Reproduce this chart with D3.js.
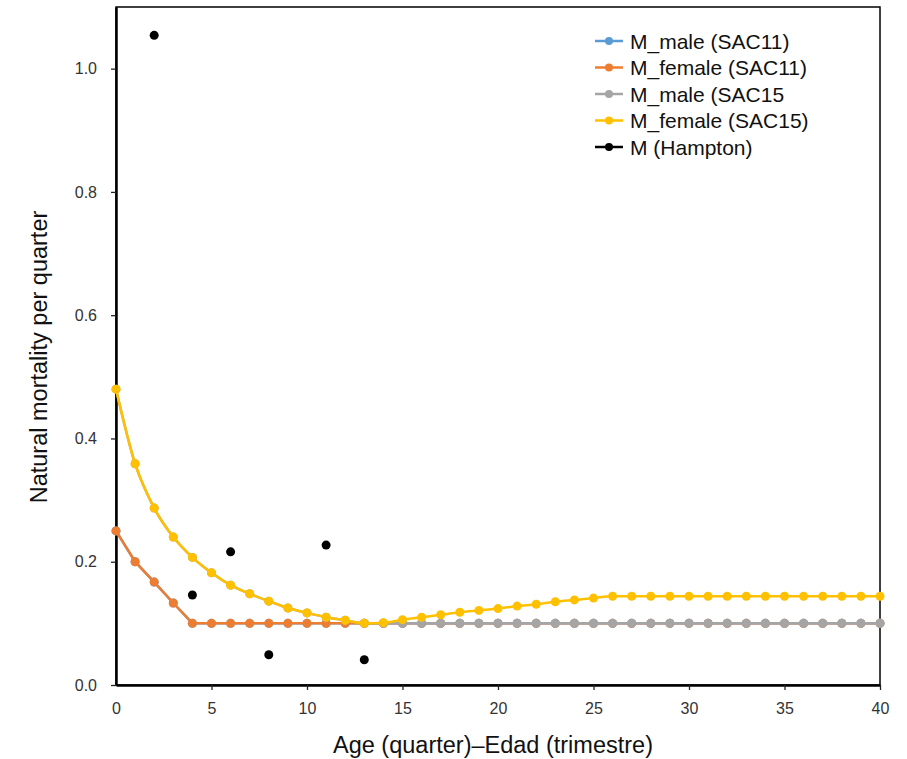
<!DOCTYPE html>
<html><head><meta charset="utf-8">
<script src="https://cdn.jsdelivr.net/npm/d3@7"></script>
<style>body{margin:0;background:#fff;} text{font-family:"Liberation Sans",Arial,sans-serif;}</style>
</head><body>
<svg id="chart" width="907" height="759"></svg>
<script>
const ages = d3.range(0, 41);
const maleSAC11 = [0.25,0.2,0.167,0.133,0.1,0.1,0.1,0.1,0.1,0.1,0.1,0.1,0.1,0.1,0.1,0.1,0.1,0.1,0.1,0.1,0.1,0.1,0.1,0.1,0.1,0.1,0.1,0.1,0.1,0.1,0.1,0.1,0.1,0.1,0.1,0.1,0.1,0.1,0.1,0.1,0.1];
const femaleSAC11 = [0.25,0.2,0.167,0.133,0.1,0.1,0.1,0.1,0.1,0.1,0.1,0.1,0.1,0.1,0.1,0.1,0.1,0.1,0.1,0.1,0.1,0.1,0.1,0.1,0.1,0.1,0.1,0.1,0.1,0.1,0.1,0.1,0.1,0.1,0.1,0.1,0.1,0.1,0.1,0.1,0.1];
const maleSAC15 = [0.48,0.359,0.287,0.24,0.207,0.182,0.162,0.148,0.136,0.125,0.117,0.11,0.105,0.1,0.1,0.1,0.1,0.1,0.1,0.1,0.1,0.1,0.1,0.1,0.1,0.1,0.1,0.1,0.1,0.1,0.1,0.1,0.1,0.1,0.1,0.1,0.1,0.1,0.1,0.1,0.1];
const femaleSAC15 = [0.48,0.359,0.287,0.24,0.207,0.182,0.162,0.148,0.136,0.125,0.117,0.11,0.105,0.1,0.101,0.106,0.11,0.114,0.118,0.121,0.124,0.128,0.131,0.135,0.138,0.141,0.144,0.144,0.144,0.144,0.144,0.144,0.144,0.144,0.144,0.144,0.144,0.144,0.144,0.144,0.144];
const hamptonAge = [2,4,6,8,11,13];
const hamptonM = [1.054,0.146,0.216,0.049,0.227,0.041];
const xTicks = [0,5,10,15,20,25,30,35,40];
const yTicks = [0.0,0.2,0.4,0.6,0.8,1.0];
const seriesNames = ["M_male (SAC11)","M_female (SAC11)","M_male (SAC15","M_female (SAC15)","M (Hampton)"];
const seriesColors = ["#5b9bd5","#ed7d31","#a5a5a5","#ffc000","#000000"];

const svg = d3.select("#chart");
const L=116, R=880, T=7, B=685;
const x = d3.scaleLinear().domain([0,40]).range([L,R]);
const y = d3.scaleLinear().domain([0,1.1]).range([B,T]);

svg.append("rect").attr("x",L).attr("y",T).attr("width",R-L).attr("height",B-T)
  .attr("fill","none").attr("stroke","#000").attr("stroke-width",1.5);

const xAxis = svg.append("g").attr("transform",`translate(0,${B})`)
  .call(d3.axisBottom(x).tickValues(xTicks).tickFormat(d3.format("d")).tickSize(5).tickSizeOuter(0));
const yAxis = svg.append("g").attr("transform",`translate(${L},0)`)
  .call(d3.axisLeft(y).tickValues(yTicks).tickFormat(d3.format(".1f")).tickSize(5).tickSizeOuter(0));
[xAxis,yAxis].forEach(a=>{
  a.select(".domain").attr("stroke","#000").attr("stroke-width",2.5);
  a.selectAll(".tick line").attr("stroke","#222").attr("stroke-width",1.3);
  a.selectAll(".tick text").attr("fill","#333").attr("font-size",16).attr("font-family","Liberation Sans, Arial, sans-serif");
});
xAxis.selectAll(".tick").filter(d=>d===0).select("line").remove();
xAxis.selectAll(".tick text").attr("y",29).attr("dy",0);
yAxis.selectAll(".tick text").attr("x",-19).attr("dx",0);

const curved = d3.line().x((d,i)=>x(ages[i])).y(d=>y(d)).curve(d3.curveMonotoneX);
const straight = d3.line().x((d,i)=>x(ages[i])).y(d=>y(d));
[maleSAC11,femaleSAC11,maleSAC15,femaleSAC15].forEach((s,k)=>{
  const g = svg.append("g");
  const lineGen = k<2 ? straight : curved;
  g.append("path").attr("d",lineGen(s)).attr("fill","none").attr("stroke",seriesColors[k]).attr("stroke-width",2.5);
  g.selectAll("circle").data(s).join("circle").attr("cx",(d,i)=>x(ages[i])).attr("cy",d=>y(d)).attr("r",4.5).attr("fill",seriesColors[k]);
});
svg.append("g").selectAll("circle").data(hamptonM).join("circle")
  .attr("cx",(d,i)=>x(hamptonAge[i])).attr("cy",d=>y(d)).attr("r",4.5).attr("fill","#000");

const lg = svg.append("g").attr("transform","translate(595,41)");
seriesNames.forEach((n,i)=>{
  const row = lg.append("g").attr("transform",`translate(0,${i*26.5})`);
  row.append("line").attr("x1",0).attr("x2",28).attr("y1",0).attr("y2",0).attr("stroke",seriesColors[i]).attr("stroke-width",2.5);
  row.append("circle").attr("cx",14).attr("cy",0).attr("r",4).attr("fill",seriesColors[i]);
  row.append("text").attr("x",35).attr("y",0).attr("dy","0.36em").attr("font-size",21).attr("fill","#111").text(n);
});

svg.append("text").attr("x",493).attr("y",753).attr("text-anchor","middle").attr("font-size",23.5).attr("fill","#111")
  .text("Age (quarter)\u2013Edad (trimestre)");
svg.append("text").attr("transform","translate(47,357) rotate(-90)").attr("text-anchor","middle").attr("font-size",23.5).attr("fill","#111")
  .text("Natural mortality per quarter");
</script>
</body></html>
